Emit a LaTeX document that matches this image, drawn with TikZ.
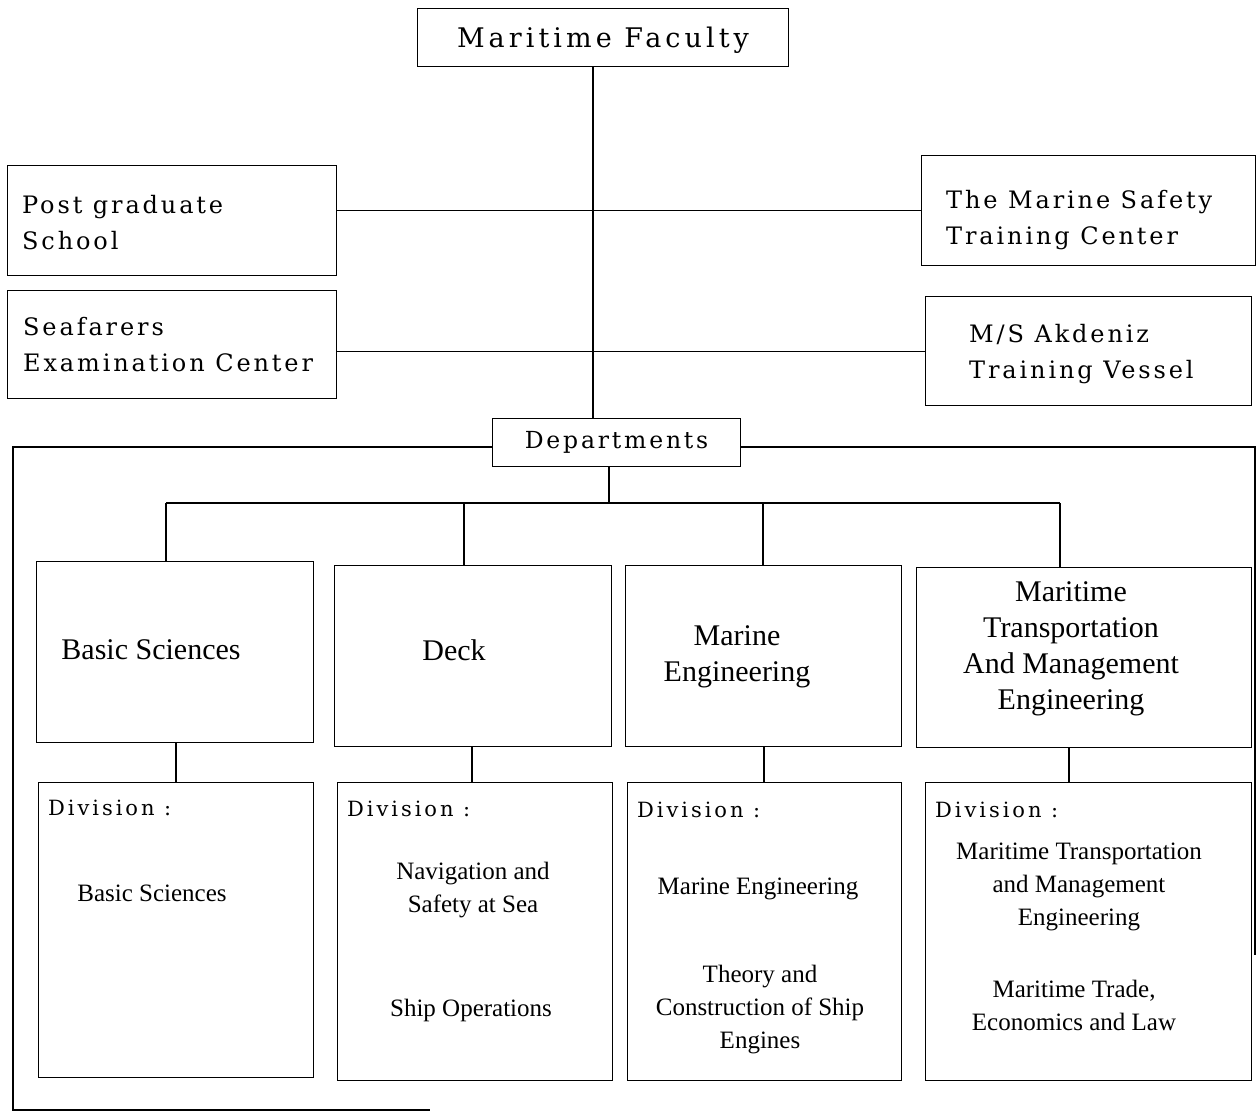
\documentclass[tikz,border=0pt]{standalone}
\usepackage{fontspec}
\setmainfont{Liberation Serif}
\newfontfamily\spacedserif[LetterSpace=12]{DejaVu Serif}
\newfontfamily\widespacedserif[LetterSpace=15]{DejaVu Serif}
\newfontfamily\divserif[LetterSpace=14]{DejaVu Serif}
\begin{document}
\begin{tikzpicture}[x=1pt,y=-1pt,
  box/.style={draw, line width=1.1pt, inner sep=0pt, anchor=north west},
  link/.style={line width=1.1pt},
  headfont/.style={font=\widespacedserif\fontsize{27}{36}\selectfont, inner sep=0pt},
  sidetext/.style={font=\spacedserif\fontsize{24}{36}\selectfont, align=left, anchor=west, inner sep=0pt},
  depttext/.style={font=\fontsize{30}{36}\selectfont, align=center, inner sep=0pt},
  divhead/.style={font=\divserif\fontsize{21}{26}\selectfont, anchor=west, inner sep=0pt},
  divtext/.style={font=\fontsize{25}{33}\selectfont, align=center, inner sep=0pt}]

\fill[white] (0,0) rectangle (1259,1112);
\useasboundingbox (0,0) rectangle (1259,1112);

% faculty and its attached units
\node[box, minimum width=371pt, minimum height=58pt] (mf) at (417,8) {};
\node[headfont] (mf-t) at (603,40) {Maritime Faculty};
\node[box, minimum width=329pt, minimum height=110pt] (pg) at (7,165) {};
\node[box, minimum width=329pt, minimum height=108pt] (sf) at (7,290) {};
\node[box, minimum width=334pt, minimum height=110pt] (ms) at (921,155) {};
\node[box, minimum width=326pt, minimum height=109pt] (ak) at (925,296) {};
\node[sidetext] (pg-t) at (22,223) {Post graduate\\School};
\node[sidetext] (sf-t) at (23,345) {Seafarers\\Examination Center};
\node[sidetext] (ms-t) at (946,220) {The Marine Safety\\Training Center};
\node[sidetext] (ak-t) at (969,354) {M/S Akdeniz\\Training Vessel};

\node[box, minimum width=248pt, minimum height=48pt, font=\spacedserif\fontsize{23.5}{30}\selectfont] (dp) at (492,418) {Departments};

\coordinate (trunk) at (593,0);
\draw[link] (mf.south -| trunk) -- (dp.north -| trunk);
\draw[link] (pg.east |- ms.west) -- (ms.west);
\draw[link] (sf.east |- ak.west) -- (ak.west);

% frame around the departments
\draw[link] (dp.west |- 0,447) -- (13,447) -- (13,1110) -- (430,1110);
\draw[link] (dp.east |- 0,447) -- (1255,447) -- (1255,955);

% departments
\node[box, minimum width=277pt, minimum height=181pt] (bs) at (36,561) {};
\node[box, minimum width=277pt, minimum height=181pt] (dk) at (334,565) {};
\node[box, minimum width=276pt, minimum height=181pt] (me) at (625,565) {};
\node[box, minimum width=335pt, minimum height=180pt] (mt) at (916,567) {};
\node[depttext] (bs-t) at (151,650) {Basic Sciences};
\node[depttext] (dk-t) at (454,650) {Deck};
\node[depttext] (me-t) at (737,657) {Marine\\Engineering};
\node[depttext] (mt-t) at (1071,649) {Maritime\\Transportation\\And Management\\Engineering};

\coordinate (busdp) at (609,503);
\coordinate (bus1) at (166,503);
\coordinate (bus2) at (464,503);
\coordinate (bus3) at (763,503);
\coordinate (bus4) at (1060,503);
\draw[link] (dp.south -| busdp) -- (busdp);
\draw[link] (bus1) -- (bus4);
\draw[link] (bus1) -- (bs.north -| bus1);
\draw[link] (bus2) -- (dk.north -| bus2);
\draw[link] (bus3) -- (me.north -| bus3);
\draw[link] (bus4) -- (mt.north -| bus4);

% divisions
\node[box, minimum width=275pt, minimum height=295pt] (dbs) at (38,782) {};
\node[box, minimum width=275pt, minimum height=298pt] (ddk) at (337,782) {};
\node[box, minimum width=274pt, minimum height=298pt] (dme) at (627,782) {};
\node[box, minimum width=326pt, minimum height=298pt] (dmt) at (925,782) {};

\draw[link] (bs.south -| 176,0) -- (dbs.north -| 176,0);
\draw[link] (dk.south -| 472,0) -- (ddk.north -| 472,0);
\draw[link] (me.south -| 764,0) -- (dme.north -| 764,0);
\draw[link] (mt.south -| 1069,0) -- (dmt.north -| 1069,0);

\node[divhead] (dbs-h) at (48,808) {Division :};
\node[divhead] (ddk-h) at (347,809) {Division :};
\node[divhead] (dme-h) at (637,810) {Division :};
\node[divhead] (dmt-h) at (935,810) {Division :};

\node[divtext] (dbs-a) at (152,893) {Basic Sciences};
\node[divtext] (ddk-a) at (473,890) {Navigation and\\Safety at Sea};
\node[divtext] (ddk-b) at (471,1010) {Ship Operations};
\node[divtext] (dme-a) at (758,889) {Marine Engineering};
\node[divtext] (dme-b) at (760,1010) {Theory and\\Construction of Ship\\Engines};
\node[divtext] (dmt-a) at (1079,887) {Maritime Transportation\\and Management\\Engineering};
\node[divtext] (dmt-b) at (1074,1005) {Maritime Trade,\\Economics and Law};
\end{tikzpicture}
\end{document}
